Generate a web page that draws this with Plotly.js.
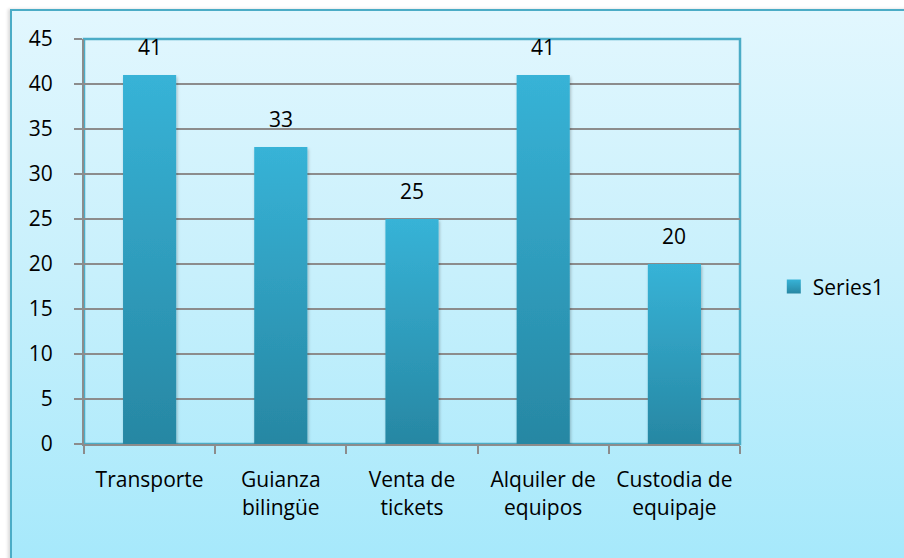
<!DOCTYPE html>
<html>
<head>
<meta charset="utf-8">
<script src="https://cdn.plot.ly/plotly-3.0.1.min.js"></script>
<style>
  html, body { margin: 0; padding: 0; background: #ffffff; width: 904px; height: 558px; overflow: hidden; }
  #frame { position: absolute; left: 10px; top: 9px; width: 920px; height: 580px;
           border: 2px solid #4BACC6; box-sizing: border-box;
           background: linear-gradient(to bottom, #E2F7FE 0%, #C8F0FC 45%, #A3E8FB 100%);
           box-shadow: -2px 0 3px rgba(0,0,0,0.15); }
  #chart { position: absolute; left: 0; top: 0; width: 904px; height: 558px; }
</style>
</head>
<body>
<div id="frame"></div>
<div id="chart"></div>
<script>
const categories = ["Transporte", "Guianza<br>bilingüe", "Venta de<br>tickets", "Alquiler de<br>equipos", "Custodia de<br>equipaje"];
const values = [41, 33, 25, 41, 20];
const seriesName = "Series1";
const yTicks = [0, 5, 10, 15, 20, 25, 30, 35, 40, 45];

const FONT = "Open Sans, Liberation Sans, sans-serif";
const FS = 21;

const trace = {
  type: "bar",
  x: categories,
  y: values,
  name: seriesName,
  showlegend: true,
  width: 0.405,
  marker: { color: "#2FA0C2", line: { width: 0 } },
  hoverinfo: "none"
};

const annotations = categories.map((c, i) => ({
  x: c, y: values[i], xref: "x", yref: "y",
  text: String(values[i]), showarrow: false,
  yanchor: "bottom", yshift: 12,
  font: { family: FONT, size: FS, color: "#000000" }
}));

const layout = {
  width: 904, height: 558,
  margin: { l: 84, r: 164, t: 39, b: 114 },
  paper_bgcolor: "rgba(0,0,0,0)",
  plot_bgcolor: "rgba(0,0,0,0)",
  font: { family: FONT, size: FS, color: "#000000" },
  xaxis: {
    type: "category",
    showgrid: false,
    showline: true, linecolor: "#8C8C8C", linewidth: 2,
    ticks: "outside", tickson: "boundaries", ticklen: 8, tickcolor: "#8C8C8C", tickwidth: 2,
    ticklabelstandoff: 16,
    tickangle: 0,
    tickfont: { family: FONT, size: FS, color: "#000000" },
    zeroline: false
  },
  yaxis: {
    range: [0, 45],
    tickvals: yTicks,
    ticktext: yTicks.map(String),
    showgrid: true, gridcolor: "#8C8C8C", gridwidth: 1.6,
    showline: true, linecolor: "#8C8C8C", linewidth: 2,
    ticks: "outside", ticklen: 8, tickcolor: "#8C8C8C", tickwidth: 2,
    ticklabelstandoff: 17,
    tickfont: { family: FONT, size: FS, color: "#000000" },
    zeroline: false
  },
  shapes: [{
    type: "rect", xref: "paper", yref: "paper", x0: 0, x1: 1, y0: 0, y1: 1,
    line: { color: "#4BACC6", width: 2.5 }, layer: "below"
  }],
  annotations: annotations,
  legend: {
    x: 1.05, xanchor: "left", y: 0.388, yanchor: "middle",
    bgcolor: "rgba(0,0,0,0)",
    font: { family: FONT, size: FS, color: "#000000" }
  },
  bargap: 0.595,
  showlegend: true
};

Plotly.newPlot("chart", [trace], layout, { displayModeBar: false, staticPlot: true }).then(gd => {
  const svg = gd.querySelector("svg.main-svg");
  const ns = "http://www.w3.org/2000/svg";
  let defs = svg.querySelector("defs");
  if (!defs) { defs = document.createElementNS(ns, "defs"); svg.insertBefore(defs, svg.firstChild); }
  const grad = document.createElementNS(ns, "linearGradient");
  grad.setAttribute("id", "barGrad");
  grad.setAttribute("x1", "0"); grad.setAttribute("y1", "0");
  grad.setAttribute("x2", "0"); grad.setAttribute("y2", "1");
  [["0%", "#37B3D7"], ["100%", "#2787A3"]].forEach(([o, c]) => {
    const s = document.createElementNS(ns, "stop");
    s.setAttribute("offset", o); s.setAttribute("stop-color", c);
    grad.appendChild(s);
  });
  defs.appendChild(grad);
  const filt = document.createElementNS(ns, "filter");
  filt.setAttribute("id", "barShadow");
  filt.setAttribute("x", "-20%"); filt.setAttribute("y", "-20%");
  filt.setAttribute("width", "140%"); filt.setAttribute("height", "140%");
  filt.innerHTML = '<feDropShadow dx="1" dy="2" stdDeviation="1.5" flood-color="#000" flood-opacity="0.25"/>';
  defs.appendChild(filt);
  gd.querySelectorAll(".barlayer .point path").forEach(p => {
    p.style.fill = "url(#barGrad)";
    p.setAttribute("filter", "url(#barShadow)");
  });
  gd.querySelectorAll(".legend .legendpoints path").forEach(p => {
    p.style.fill = "url(#barGrad)";
    p.setAttribute("d", "M8,7H-6V-7H8Z");
  });
});
</script>
</body>
</html>
